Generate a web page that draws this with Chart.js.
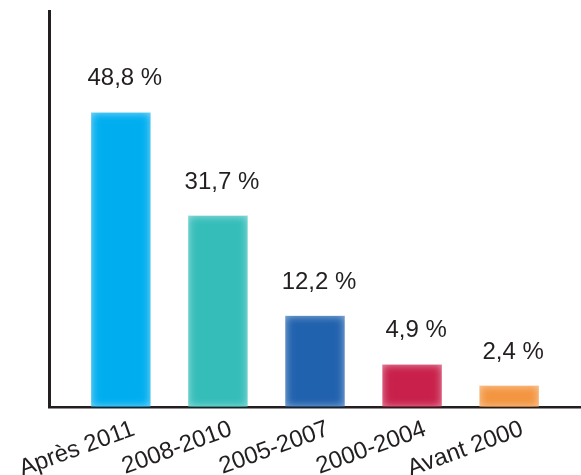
<!DOCTYPE html>
<html>
<head>
<meta charset="utf-8">
<script src="https://cdn.jsdelivr.net/npm/chart.js@4"></script>
<style>
  html, body { margin: 0; padding: 0; background: #fff; }
  #wrap { width: 581px; height: 475px; }
</style>
</head>
<body>
<div id="wrap"><canvas id="chart"></canvas></div>
<script>
// Periods on the x axis
const periods = ['Après 2011', '2008-2010', '2005-2007', '2000-2004', 'Avant 2000'];
// Shares printed above the bars (%)
const shares = [48.8, 31.7, 12.2, 4.9, 2.4];
const barHeights = [48.8, 31.7, 15.1, 7.0, 3.5];
const barColors = ['#00aeef', '#35bdb9', '#2162ae', '#c8204a', '#f39540'];
const barEdgeColors = ['rgba(0,174,239,0.45)', 'rgba(53,189,185,0.45)', 'rgba(33,98,174,0.45)', 'rgba(200,32,74,0.45)', 'rgba(243,149,64,0.45)'];

const inkColor = '#231f20';
const fontFamily = '"Liberation Sans", Arial, sans-serif';

// Soft edged bars: blurred solid fill clipped to each bar
const softBars = {
    id: 'softBars',
    afterDatasetDraw(chart, args) {
        const ctx = chart.ctx;
        args.meta.data.forEach((bar, i) => {
            const p = bar.getProps(['x', 'y', 'base', 'width'], true);
            const left = p.x - p.width / 2;
            const h = p.base - p.y;
            ctx.save();
            ctx.beginPath();
            ctx.rect(left, p.y, p.width, h);
            ctx.clip();
            ctx.filter = 'blur(4px)';
            ctx.fillStyle = barColors[i];
            ctx.fillRect(left, p.y, p.width, h);
            ctx.restore();
        });
    }
};

// Percent labels above the bars
const shareLabels = {
    id: 'shareLabels',
    afterDatasetsDraw(chart) {
        const ctx = chart.ctx;
        const meta = chart.getDatasetMeta(0);
        ctx.save();
        ctx.font = '24px ' + fontFamily;
        ctx.fillStyle = inkColor;
        ctx.textAlign = 'center';
        ctx.textBaseline = 'middle';
        meta.data.forEach((bar, i) => {
            const txt = shares[i].toFixed(1).replace('.', ',') + ' %';
            ctx.fillText(txt, bar.x + 4, bar.y - 34);
        });
        ctx.restore();
    }
};

new Chart(document.getElementById('chart'), {
    type: 'bar',
    data: {
        datasets: [{
            data: barHeights.map((v, i) => ({ x: i, y: v })),
            backgroundColor: barEdgeColors,
            borderWidth: 0,
            barThickness: 59
        }]
    },
    options: {
        responsive: true,
        maintainAspectRatio: false,
        animation: false,
        layout: { padding: { top: 11, left: 41, right: 0, bottom: 0 } },
        plugins: {
            legend: { display: false },
            tooltip: { enabled: false }
        },
        scales: {
            x: {
                type: 'linear',
                bounds: 'data',
                offset: false,
                min: -0.74,
                max: 4.74,
                grid: { display: false },
                border: { display: true, color: inkColor, width: 2.5 },
                afterBuildTicks: s => { s.ticks = periods.map((_, i) => ({ value: i })); },
                afterFit: s => { s.paddingLeft = 0; s.paddingRight = 0; s.height = 68; },
                ticks: {
                    color: inkColor,
                    font: { family: fontFamily, size: 24 },
                    minRotation: 20,
                    maxRotation: 20,
                    padding: 0,
                    labelOffset: 13,
                    callback: v => periods[v]
                }
            },
            y: {
                min: 0,
                max: 65.7,
                grid: { display: false },
                ticks: { display: false },
                border: { display: true, color: inkColor, width: 3 }
            }
        }
    },
    plugins: [softBars, shareLabels]
});
</script>
</body>
</html>
